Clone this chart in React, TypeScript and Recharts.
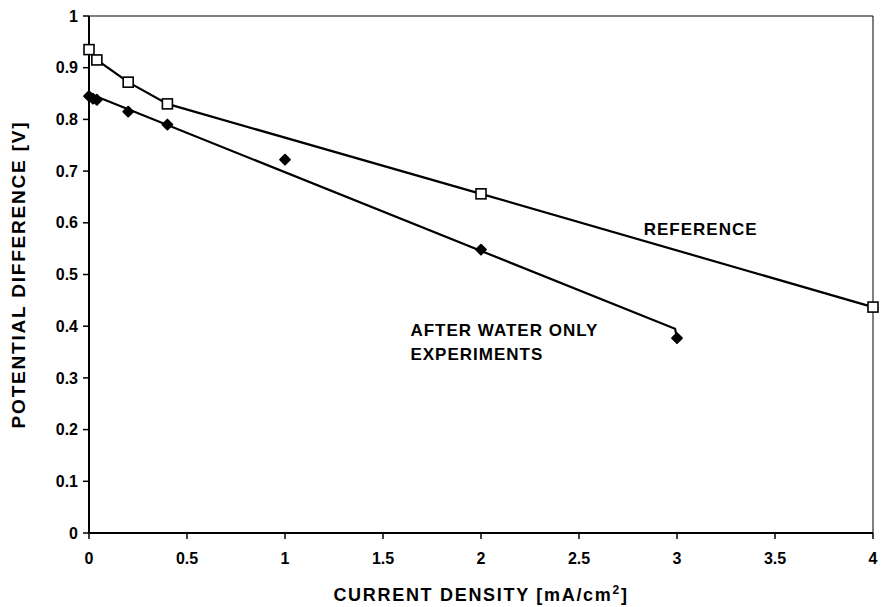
import React from "react";
import {
  ScatterChart,
  Scatter,
  XAxis,
  YAxis,
  ReferenceLine,
  ReferenceDot,
} from "recharts";

// reference run (open squares)
const refX = [0, 0.04, 0.2, 0.4, 2, 4];
const refY = [0.935, 0.915, 0.872, 0.83, 0.656, 0.437];

// after water only experiments (filled diamonds)
const waterX = [0, 0.02, 0.04, 0.2, 0.4, 1, 2, 3];
const waterY = [0.845, 0.84, 0.838, 0.815, 0.79, 0.722, 0.548, 0.377];

// hand drawn fit line through the water points
const waterFitX = [0, 2.99, 3];
const waterFitY = [0.85, 0.395, 0.378];

const xTicks = [0, 0.5, 1, 1.5, 2, 2.5, 3, 3.5, 4];
const yTicks = [0, 0.1, 0.2, 0.3, 0.4, 0.5, 0.6, 0.7, 0.8, 0.9, 1];

const toPoints = (xs: number[], ys: number[]) => xs.map((x, i) => ({ x, y: ys[i] }));

const refData = toPoints(refX, refY);
const waterData = toPoints(waterX, waterY);
const waterFit = toPoints(waterFitX, waterFitY);

const FONT = "'Liberation Sans', Arial, sans-serif";

const Square = (props: any) => {
  const { cx, cy } = props;
  return <rect x={cx - 5} y={cy - 5} width={10} height={10} fill="#fff" stroke="#000" strokeWidth={1.6} />;
};

const Diamond = (props: any) => {
  const { cx, cy } = props;
  return (
    <path
      d={`M${cx},${cy - 5} L${cx + 5},${cy} L${cx},${cy + 5} L${cx - 5},${cy} Z`}
      fill="#000"
      stroke="#000"
      strokeWidth={1.8}
      strokeLinejoin="round"
    />
  );
};

const NoDot = () => <g />;

const note = (lines: string[]) => (props: any) => {
  const { viewBox } = props;
  return (
    <text x={viewBox.x} y={viewBox.y} fontFamily={FONT} fontSize={17} fontWeight="bold" fill="#000" letterSpacing={1}>
      {lines.map((l, i) => (
        <tspan key={i} x={viewBox.x} dy={i === 0 ? 6 : 24}>
          {l}
        </tspan>
      ))}
    </text>
  );
};

export default function App() {
  const tick = { fontFamily: FONT, fontSize: 16, fontWeight: "bold", fill: "#000" };
  return (
    <div style={{ position: "absolute", left: 0, top: 0, background: "#fff" }}>
      <ScatterChart width={881} height={607} margin={{ top: 16, right: 8, left: 0, bottom: 0 }}>
        <XAxis
          type="number"
          dataKey="x"
          domain={[0, 4]}
          ticks={xTicks}
          tickFormatter={(v) => `${v}`}
          tick={tick}
          tickMargin={14}
          height={74}
          axisLine={{ stroke: "#000", strokeWidth: 2 }}
          tickLine={{ stroke: "#000", strokeWidth: 1.5 }}
          label={{
            content: (p: any) => {
              const vb = p.viewBox;
              return (
                <text
                  x={vb.x + vb.width / 2}
                  y={vb.y + 68}
                  textAnchor="middle"
                  fontFamily={FONT}
                  fontSize={18}
                  fontWeight="bold"
                  letterSpacing={1.7}
                  fill="#000"
                >
                  CURRENT DENSITY [mA/cm
                  <tspan dy={-7} fontSize={12}>
                    2
                  </tspan>
                  <tspan dy={7}>]</tspan>
                </text>
              );
            },
          }}
        />
        <YAxis
          type="number"
          dataKey="y"
          domain={[0, 1]}
          ticks={yTicks}
          tickFormatter={(v) => `${v}`}
          tick={tick}
          tickMargin={5}
          width={89}
          axisLine={{ stroke: "#000", strokeWidth: 2 }}
          tickLine={{ stroke: "#000", strokeWidth: 1.5 }}
          label={{
            content: (p: any) => {
              const vb = p.viewBox;
              const cy = vb.y + vb.height / 2;
              return (
                <text
                  x={25}
                  y={cy}
                  transform={`rotate(-90, 25, ${cy})`}
                  textAnchor="middle"
                  fontFamily={FONT}
                  fontSize={19}
                  fontWeight="bold"
                  letterSpacing={1.8}
                  fill="#000"
                >
                  POTENTIAL DIFFERENCE [V]
                </text>
              );
            },
          }}
        />
        <ReferenceLine y={1} stroke="#000" strokeWidth={1} />
        <ReferenceLine x={4} stroke="#000" strokeWidth={1} />

        <Scatter data={waterFit} line={{ stroke: "#000", strokeWidth: 2.2 }} lineType="joint" shape={NoDot} isAnimationActive={false} />
        <Scatter data={refData} line={{ stroke: "#000", strokeWidth: 2.2 }} lineType="joint" shape={NoDot} isAnimationActive={false} />
        <Scatter data={waterData} shape={Diamond} isAnimationActive={false} />
        <Scatter data={refData} shape={Square} isAnimationActive={false} />

        <ReferenceDot x={2.83} y={0.588} r={0} label={{ content: note(["REFERENCE"]) }} />
        <ReferenceDot x={1.64} y={0.393} r={0} label={{ content: note(["AFTER WATER ONLY", "EXPERIMENTS"]) }} />
      </ScatterChart>
    </div>
  );
}
